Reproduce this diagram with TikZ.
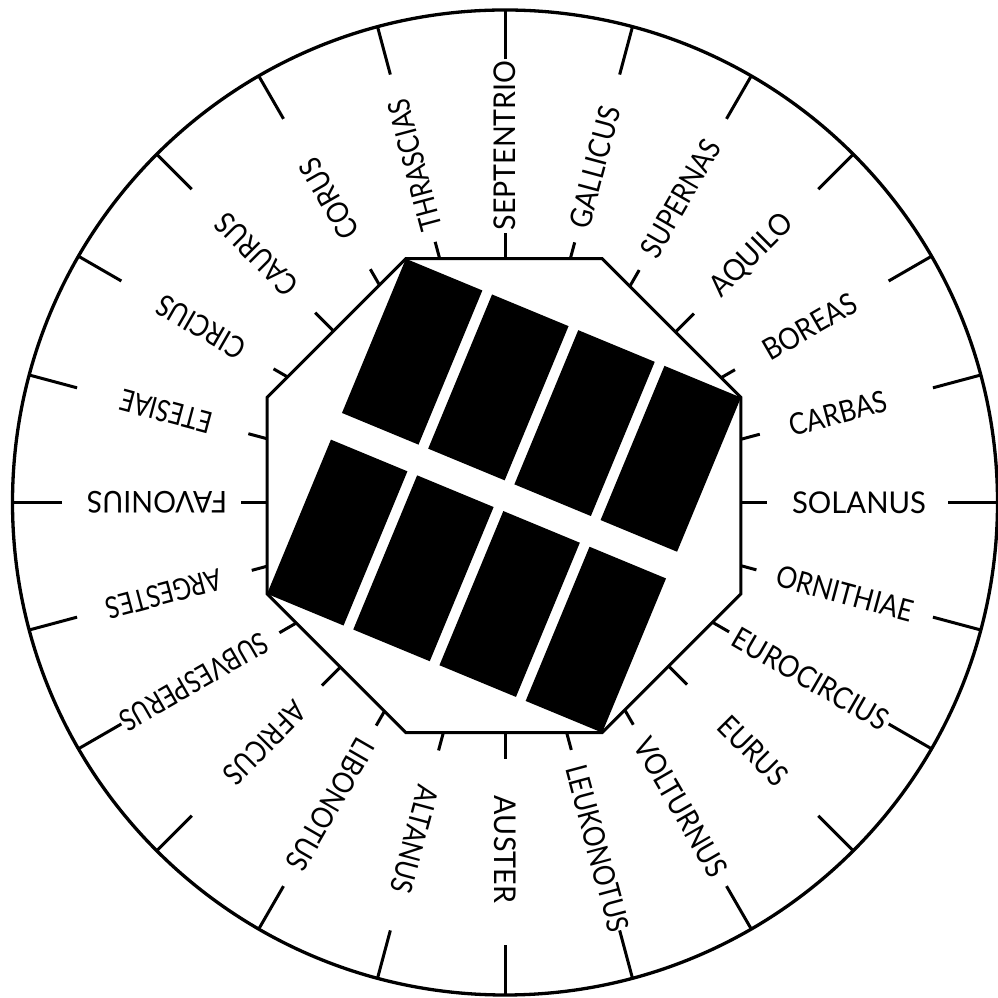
\documentclass[tikz,border=0pt]{standalone}
\usepackage{fontspec}
\usepackage{graphicx}
\setmainfont{Lato}
\usetikzlibrary{calc}
\newcommand\windfit[2]{\setbox0=\hbox{#2}\pgfmathsetmacro\windsx{#1/\the\wd0}\scalebox{\windsx}[1]{\box0}}
\begin{document}
\begin{tikzpicture}[x=1pt,y=1pt,
  rim/.style={line width=3.3pt},
  tickline/.style={line width=3pt},
  octa/.style={line width=3pt, fill=white, line join=miter},
  lab/.style={font=\fontsize{30}{36}\selectfont, inner sep=0pt, anchor=center},
  panel/.style={fill=black}]
\useasboundingbox (0,0) rectangle (997,998);
\coordinate (C) at (505,495.5);
\coordinate (O) at (504,502.3);
\draw[rim] (C) circle[radius=492.5];
\foreach \a/\wn/\r/\L [count=\i] in {
  0/SOLANUS/354/134, 15/CARBAS/345/100, 30/BOREAS/352/104, 45/AQUILO/349/104,
  60/SUPERNAS/351/130, 75/GALLICUS/347/125, 90/SEPTENTRIO/357/170, 105/THRASCIAS/349/135,
  120/CORUS/351/88, 135/CAURUS/351/103, 150/CIRCIUS/351/98, 165/ETESIAE/351/94,
  180/FAVONIUS/348/140, 195/ARGESTES/353/119, 210/SUBVESPERUS/359/166, 225/AFRICUS/340/103,
  240/LIBONOTUS/349/147, 255/ALTANUS/349/110, 270/AUSTER/347/107, 285/LEUKONOTUS/358/172,
  300/VOLTURNUS/352/156, 315/EURUS/351/85, 330/EUROCIRCIUS/353/175, 345/ORNITHIAE/352/141} {
  \pgfmathsetmacro\ti{263-cos(\a)+6.8*sin(\a)}
  \draw[tickline] ($(C)+(\a:200)$) -- ($(C)+(\a:\ti)$);
  \draw[tickline] ($(C)+(\a:443)$) -- ($(C)+(\a:492.5)$);
  \path (C) ++(\a:\r) node[lab, rotate=\a] (w\i) {\windfit{\L}{\wn}};
}
\draw[octa] ($(O)+(22.5:256.5)$) -- ++(135:196.3) -- ++(180:196.3) -- ++(225:196.3)
  -- ++(270:196.3) -- ++(315:196.3) -- ++(0:196.3) -- ++(45:196.3) -- cycle;
\begin{scope}[shift={(O)}, rotate=-22.5]
  \foreach \x in {-181.35,-88.05,5.25,98.55} {
    \fill[panel] (\x,14.45) rectangle ++(82.8,166.9);
    \fill[panel] (\x,-181.35) rectangle ++(82.8,166.9);
  }
\end{scope}
\end{tikzpicture}
\end{document}
